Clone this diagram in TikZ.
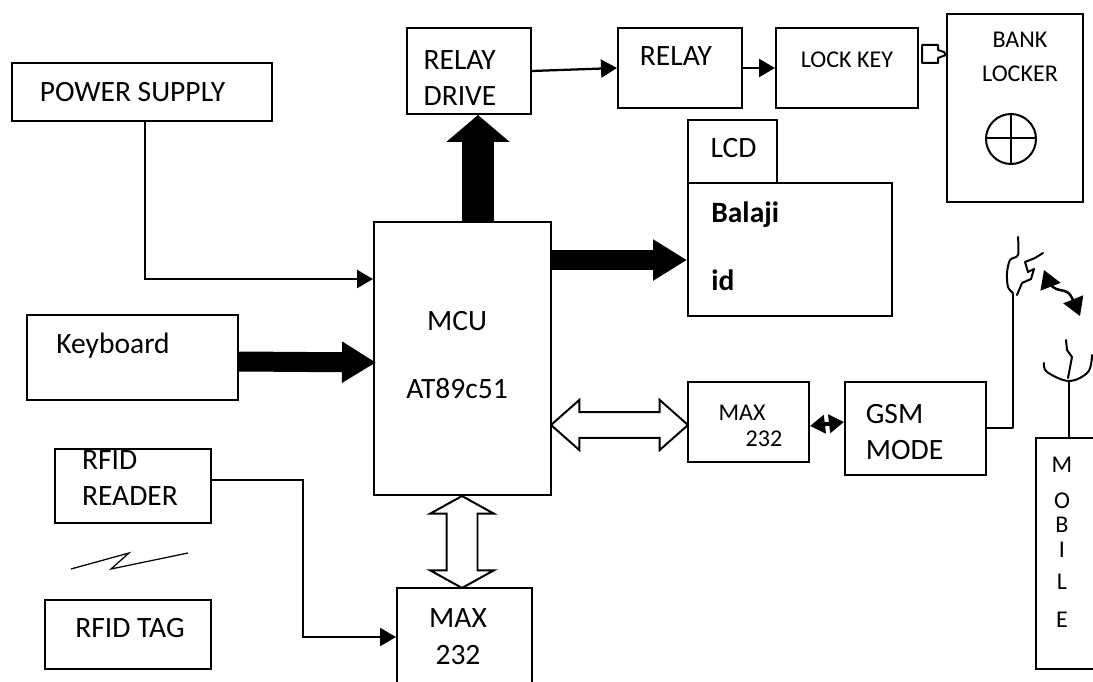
\documentclass[tikz,border=0pt]{standalone}
\usepackage{fontspec}
\setmainfont{Carlito}
\usepackage{tikz}
\usetikzlibrary{arrows.meta, shapes.arrows}
\tikzset{
  blockbox/.style={draw=black, line width=0.04cm, inner sep=0pt, fill=white},
  biglabel/.style={font=\fontsize{16.8}{21}\selectfont, align=center, inner sep=0pt},
  smalllabel/.style={font=\fontsize{13.7}{19}\selectfont, align=center, inner sep=0pt},
  thinarrow/.style={-{Triangle[length=0.32cm,width=0.36cm]}, line width=0.045cm},
  fatarrow/.style={-{Triangle[length=0.68cm,width=0.78cm]}, line width=0.4cm},
  hollowarrow/.style={shape=double arrow, draw=black, fill=white, line width=0.04cm,
                      double arrow head indent=0pt},
  sketchline/.style={line width=0.04cm, line join=round, line cap=round}
}
\begin{document}
\begin{tikzpicture}[x=0.02cm, y=-0.02cm]
    \useasboundingbox (0,0) rectangle (1093,682);
    \clip (0,0) rectangle (1093,682);

    % left column
    \node[blockbox, minimum width=5.2cm, minimum height=1.16cm] (psu) at (142,92) {};
    \node[blockbox, minimum width=4.22cm, minimum height=1.7cm] (keyboard) at (132.5,357.5) {};
    \node[blockbox, minimum width=3.12cm, minimum height=1.48cm] (reader) at (133,486) {};
    \node[blockbox, minimum width=3.32cm, minimum height=1.38cm] (tag) at (128,634.5) {};

    % middle
    \node[blockbox, minimum width=3.54cm, minimum height=5.46cm] (mcu) at (462.5,358.5) {};
    \node[blockbox, minimum width=2.7cm, minimum height=2.64cm] (maxlow) at (464.5,654) {};
    \node[blockbox, minimum width=2.48cm, minimum height=1.72cm] (drive) at (469,71) {};

    % top row
    \node[blockbox, minimum width=2.48cm, minimum height=1.6cm] (relay) at (680,68) {};
    \node[blockbox, minimum width=2.84cm, minimum height=1.6cm] (lockkey) at (847,68) {};
    \node[blockbox, minimum width=2.72cm, minimum height=3.76cm] (locker) at (1015,108) {};

    % right side
    \node[blockbox, minimum width=1.78cm, minimum height=1.26cm] (lcdtab) at (732.5,151.5) {};
    \node[blockbox, minimum width=4.08cm, minimum height=2.66cm] (lcd) at (790,249.5) {};
    \node[blockbox, minimum width=2.42cm, minimum height=1.6cm] (maxmid) at (748.5,422) {};
    \node[blockbox, minimum width=2.82cm, minimum height=1.86cm] (gsm) at (915.5,428.5) {};
    \node[blockbox, minimum width=1.88cm, minimum height=4.62cm] (mobile) at (1083,553.5) {};

    % texts
    \node[biglabel, anchor=base] (psutext) at (132.5,102) {POWER SUPPLY};
    \node[biglabel, anchor=base] (keytext) at (113,354) {Keyboard};
    \node[biglabel, align=left] (readertext) at (130,478) {RFID\\READER};
    \node[biglabel, anchor=base] (tagtext) at (130,637) {RFID TAG};
    \node[biglabel] (mcutext) at (457,355) {MCU\\[17.7pt]AT89c51};
    \node[biglabel] (maxlowtext) at (458,637) {MAX\\232};
    \node[biglabel, align=left] (drivetext) at (460,78) {RELAY\\DRIVE};
    \node[biglabel, anchor=base] (relaytext) at (676,66) {RELAY};
    \node[smalllabel, anchor=base] (locktext) at (847,68) {LOCK KEY};
    \node[smalllabel] (lockertext) at (1020,57) {BANK\\LOCKER};
    \node[biglabel, anchor=base] (lcdtext) at (733.5,158) {LCD};
    \node[biglabel, align=left, font=\fontsize{16.8}{21}\selectfont\bfseries, anchor=west]
      (lcdbody) at (711,246) {Balaji\\[17.7pt]id};
    \node[smalllabel, anchor=base] (maxmidtext) at (742,420) {MAX};
    \node[smalllabel, anchor=base] (maxmidnum) at (764,447) {232};
    \node[biglabel, align=left] (gsmtext) at (904.5,432) {GSM\\MODE};
    \foreach \letter/\ypos in {M/473, O/508, B/532, I/558, L/589, E/627}
      \node[smalllabel, anchor=base] (mob\letter) at (1062,\ypos) {\letter};

    % connectors
    \draw[thinarrow] ([xshift=0.06cm]psu.south) |- ([yshift=1.59cm]mcu.west);
    \draw[fatarrow] ([yshift=-0.08cm]keyboard.east) -- ([yshift=-0.08cm,xshift=0.06cm]mcu.west);
    \draw[fatarrow] ([yshift=1.97cm]mcu.east) -- ([yshift=1.97cm]mcu.east -| lcd.west);
    \draw[-{Triangle[length=0.54cm,width=1.24cm]}, line width=0.64cm]
      ([xshift=0.31cm]mcu.north) -- ([xshift=0.31cm]mcu.north |- drive.south);
    \draw[thinarrow] (drive.east) -- (relay.west);
    \draw[thinarrow] (relay.east) -- (lockkey.west);
    \draw[thinarrow] ([yshift=0.12cm]reader.east) -| (303,637) -- (303,637 -| maxlow.west);
    \draw[{Triangle[length=0.3cm,width=0.36cm]}-{Triangle[length=0.3cm,width=0.36cm]}, line width=0.08cm]
      ([yshift=-0.08cm]maxmid.east) -- (maxmid.east -| gsm.west);

    % hollow buses
    \node[hollowarrow, inner xsep=0pt, inner ysep=0.24cm, minimum height=2.74cm, minimum width=0.96cm,
          double arrow head extend=0.24cm, double arrow tip angle=83] (bushoriz) at (619.5,425) {};
    \node[hollowarrow, shape border rotate=90, inner ysep=0pt, inner xsep=0.29cm, minimum height=1.84cm, minimum width=1.24cm,
          double arrow head extend=0.33cm, double arrow tip angle=122] (busvert) at (462,542) {};

    % key and dial
    \draw[sketchline] (938,45) -- (922,45) -- (922,63) -- (938,63) -- (938,58) -- (946,55)
      -- (944,52) -- (938,50) -- cycle;
    \draw[sketchline] (1011,139) circle[radius=0.5cm];
    \draw[sketchline] (986,138) -- (1036,138) (1011,114) -- (1011,164);

    % radio link between reader and tag
    \draw[line width=0.025cm, line join=miter] (71,569) -- (129,553) -- (111,569) -- (188,553);

    % gsm antenna
    \coordinate (gsmfeed) at (1013,294);
    \draw[sketchline] (gsm.east) -- (gsm.east -| gsmfeed) -- (gsmfeed);
    \draw[sketchline] plot[smooth, tension=0.5] coordinates {(1013,293) (1008,287) (1007,273) (1010,260) (1018,255) (1018,237)};
    \draw[sketchline] (1017,295) -- (1022,283) -- (1031,279) -- (1034,269) -- (1028,272) -- (1025,262) -- (1035,258) -- (1043,253);

    % link between the two antennas
    \draw[{Triangle[length=0.36cm,width=0.42cm]}-{Triangle[length=0.36cm,width=0.42cm]}, line width=0.05cm]
      plot[smooth, tension=0.6] coordinates {(1044,270) (1053,287) (1067,292) (1073,300) (1080,316)};

    % mobile antenna
    \coordinate (mobilefeed) at (1069,381);
    \draw[sketchline] (mobile.north -| mobilefeed) -- (mobilefeed);
    \draw[sketchline] plot[smooth, tension=0.6] coordinates {(1044,363) (1047,372) (1069,381) (1088,372) (1092,355)};
    \draw[sketchline] (1068,378) -- (1072,357) -- (1067,350) -- (1066,340);
\end{tikzpicture}
\end{document}
